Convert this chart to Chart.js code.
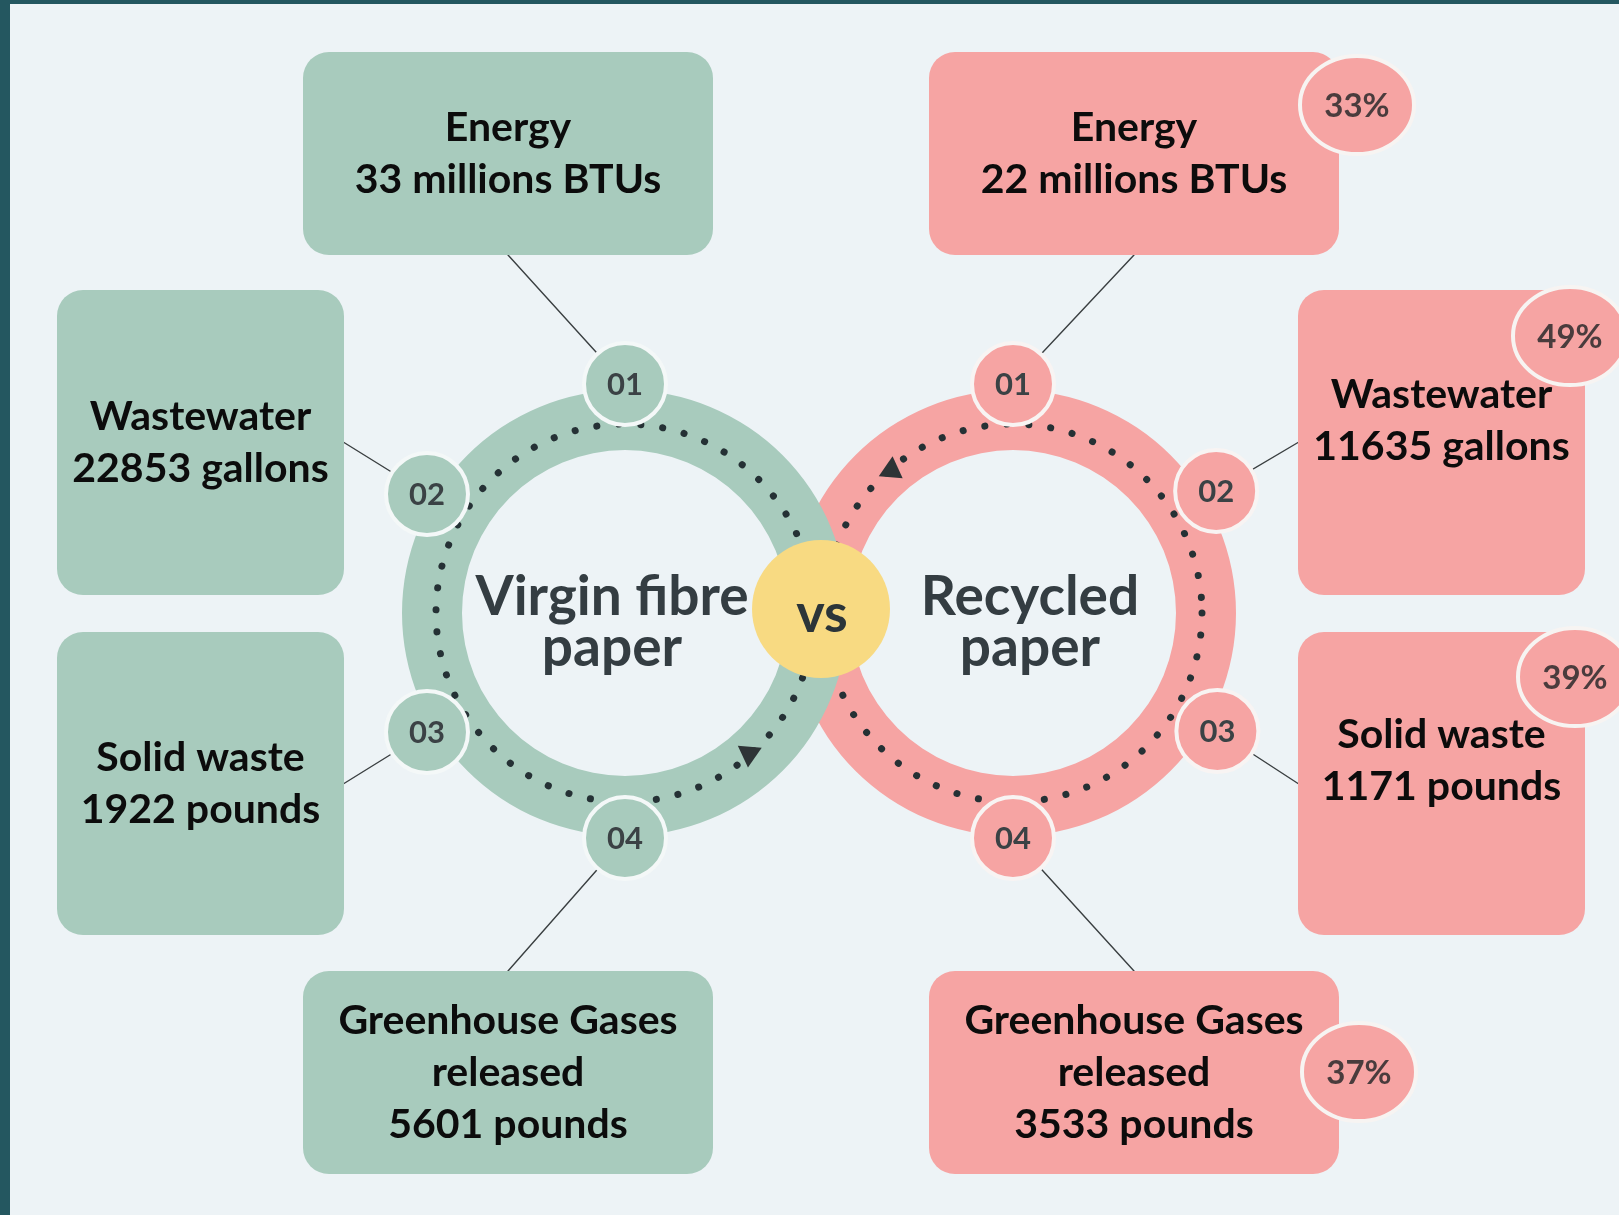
<!DOCTYPE html>
<html>
<head>
<meta charset="utf-8">
<script src="https://cdn.jsdelivr.net/npm/chart.js@4.4.0/dist/chart.umd.min.js"></script>
<style>
  html, body { margin: 0; padding: 0; background: #edf3f6; }
  canvas { display: block; }
</style>
</head>
<body>
<canvas id="myChart" width="1619" height="1215"></canvas>
<script>
// Labels
let categories = ['Energy', 'Wastewater', 'Solid waste', 'Greenhouse Gases released'];
let titleLines = [['Energy'], ['Wastewater'], ['Solid waste'], ['Greenhouse Gases', 'released']];
let units = ['millions BTUs', 'gallons', 'pounds', 'pounds'];
let steps = ['01', '02', '03', '04'];

// Datas
let virgin   = [33, 22853, 1922, 5601];
let recycled = [22, 11635, 1171, 3533];
let savings  = [33, 49, 39, 37];   // % less with recycled paper

// Layout (chart units, 1 unit = 1 px)
const W = 1619, H = 1215;
const ringOuter = 223, ringInner = 163, dotRadius = 189, stepSize = 41;
const sides = {
  green: { cx: 625,  cy: 613, fill: '#a8cbbd', angles: [-90, -149, 149, 90], dist: [229, 231, 231, 225],
           title: ['Virgin fibre', 'paper'], titleX: 612, arrow: { a: 49, rot: 95 } },
  pink:  { cx: 1013, cy: 613, fill: '#f6a4a3', angles: [-90, -31, 30, 90],   dist: [229, 237, 236, 225],
           title: ['Recycled', 'paper'], titleX: 1030, arrow: { a: -130, rot: -85 } }
};
// box rects [x, y, w, h] for virgin side; recycled side is mirrored
const boxesGreen = [[303, 52, 410, 203], [57, 290, 287, 305], [57, 632, 287, 303], [303, 971, 410, 203]];
const mirrorAxis = 821;
const boxesPink = boxesGreen.map(([x, y, w, h]) => [2 * mirrorAxis - x - w, y, w, h]);
const pinkTextShift = [0, -22, -23, 0];
const badgePos = [[1357, 105], [1570, 336], [1575, 677], [1359, 1072]];

function stepPoints(side) {
  return side.angles.map((a, i) => ({
    x: side.cx + side.dist[i] * Math.cos(a * Math.PI / 180),
    y: side.cy + side.dist[i] * Math.sin(a * Math.PI / 180)
  }));
}

function roundRect(ctx, x, y, w, h, r) {
  ctx.beginPath();
  ctx.moveTo(x + r, y);
  ctx.arcTo(x + w, y, x + w, y + h, r);
  ctx.arcTo(x + w, y + h, x, y + h, r);
  ctx.arcTo(x, y + h, x, y, r);
  ctx.arcTo(x, y, x + w, y, r);
  ctx.closePath();
}

const infographic = {
  id: 'infographic',
  beforeDatasetsDraw(chart) {
    const ctx = chart.ctx;
    const sx = chart.scales.x, sy = chart.scales.y;
    const px = v => sx.getPixelForValue(v), py = v => sy.getPixelForValue(v);
    ctx.save();
    // frame + background
    ctx.fillStyle = '#245760';
    ctx.fillRect(0, 0, W, H);
    ctx.fillStyle = '#edf3f6';
    ctx.fillRect(px(10), py(4), W, H);

    // rings: recycled first, virgin on top
    ['pink', 'green'].forEach(k => {
      const s = sides[k];
      const cx = px(s.cx), cy = py(s.cy);
      ctx.beginPath();
      ctx.arc(cx, cy, ringOuter, 0, Math.PI * 2);
      ctx.arc(cx, cy, ringInner, 0, Math.PI * 2, true);
      ctx.fillStyle = s.fill;
      ctx.fill('evenodd');
      // dotted path
      ctx.beginPath();
      ctx.arc(cx, cy, dotRadius, 0, Math.PI * 2);
      ctx.setLineDash([0.1, 22]);
      ctx.lineCap = 'round';
      ctx.lineWidth = 7;
      ctx.strokeStyle = '#253135';
      ctx.stroke();
      ctx.setLineDash([]);
      // arrow head
      const a = s.arrow.a * Math.PI / 180;
      ctx.save();
      ctx.translate(cx + dotRadius * Math.cos(a), cy + dotRadius * Math.sin(a));
      ctx.rotate(s.arrow.rot * Math.PI / 180);
      ctx.beginPath();
      ctx.moveTo(12, 0);
      ctx.lineTo(-9, -12);
      ctx.lineTo(-9, 12);
      ctx.closePath();
      ctx.fillStyle = '#2e3436';
      ctx.fill();
      ctx.restore();
    });

    // vs circle
    ctx.beginPath();
    ctx.arc(px(821), py(609), 69, 0, Math.PI * 2);
    ctx.fillStyle = '#f8da82';
    ctx.fill();

    // ring titles
    ctx.fillStyle = '#343d42';
    ctx.font = 'bold 55px Lato';
    ctx.textAlign = 'center';
    ctx.textBaseline = 'middle';
    Object.values(sides).forEach(s => {
      s.title.forEach((t, j) => ctx.fillText(t, px(s.titleX), py(597 + j * 51)));
    });
    ctx.fillStyle = '#2c3539';
    ctx.font = 'bold 54px Lato';
    ctx.textBaseline = 'alphabetic';
    ctx.fillText('vs', px(822), py(632));

    // connectors + boxes
    [['green', boxesGreen, virgin], ['pink', boxesPink, recycled]].forEach(([k, boxes, vals]) => {
      const s = sides[k];
      const pts = stepPoints(s);
      boxes.forEach(([x, y, w, h], i) => {
        let ax, ay;
        if (i === 0) { ax = x + w / 2; ay = y + h; }
        else if (i === 3) { ax = x + w / 2; ay = y; }
        else { ax = (k === 'green') ? x + w : x; ay = y + h / 2; }
        ctx.beginPath();
        ctx.moveTo(px(ax), py(ay));
        ctx.lineTo(px(pts[i].x), py(pts[i].y));
        ctx.lineWidth = 1.4;
        ctx.strokeStyle = '#3a3f41';
        ctx.stroke();

        roundRect(ctx, px(x), py(y), w, h, 26);
        ctx.fillStyle = s.fill;
        ctx.fill();

        const lines = titleLines[i].concat([vals[i] + ' ' + units[i]]);
        const shift = k === 'pink' ? pinkTextShift[i] : 0;
        const cy = y + h / 2 + shift;
        ctx.fillStyle = '#0c0c0c';
        ctx.font = 'bold 41px Lato';
        ctx.textAlign = 'center';
        ctx.textBaseline = 'middle';
        lines.forEach((t, j) => {
          ctx.fillText(t, px(x + w / 2), py(cy + (j - (lines.length - 1) / 2) * 52));
        });
      });
    });
    ctx.restore();
  },
  afterDatasetsDraw(chart) {
    const ctx = chart.ctx;
    const sx = chart.scales.x, sy = chart.scales.y;
    const px = v => sx.getPixelForValue(v), py = v => sy.getPixelForValue(v);
    ctx.save();
    ctx.textAlign = 'center';
    ctx.textBaseline = 'middle';
    // step numbers
    ctx.font = 'bold 31px Lato';
    ctx.fillStyle = '#3b4245';
    Object.values(sides).forEach(s => {
      stepPoints(s).forEach((p, i) => ctx.fillText(steps[i], px(p.x), py(p.y + 1)));
    });
    // saving badges on recycled boxes
    savings.forEach((v, i) => {
      const [bx, by] = badgePos[i];
      ctx.beginPath();
      ctx.ellipse(px(bx), py(by), 57, 49, 0, 0, Math.PI * 2);
      ctx.fillStyle = sides.pink.fill;
      ctx.fill();
      ctx.lineWidth = 4;
      ctx.strokeStyle = '#f7f4f2';
      ctx.stroke();
      ctx.fillStyle = '#4a3c3d';
      ctx.font = 'bold 33px Lato';
      ctx.fillText(v + '%', px(bx), py(by + 1));
    });
    ctx.restore();
  }
};

const ctx = document.getElementById('myChart').getContext('2d');
const myChart = new Chart(ctx, {
  type: 'scatter',
  data: {
    datasets: [
      {
        label: 'Virgin fibre paper',
        data: stepPoints(sides.green),
        pointRadius: stepSize,
        pointBackgroundColor: sides.green.fill,
        pointBorderColor: '#f4f8f8',
        pointBorderWidth: 4
      },
      {
        label: 'Recycled paper',
        data: stepPoints(sides.pink),
        pointRadius: stepSize,
        pointBackgroundColor: sides.pink.fill,
        pointBorderColor: '#f8f4f3',
        pointBorderWidth: 4
      }
    ]
  },
  options: {
    responsive: false,
    animation: false,
    events: [],
    devicePixelRatio: 1,
    layout: { padding: 0, autoPadding: false },
    plugins: { legend: { display: false }, tooltip: { enabled: false } },
    scales: {
      x: { type: 'linear', min: 0, max: W, display: false },
      y: { type: 'linear', min: 0, max: H, reverse: true, display: false }
    }
  },
  plugins: [infographic]
});
</script>
</body>
</html>
